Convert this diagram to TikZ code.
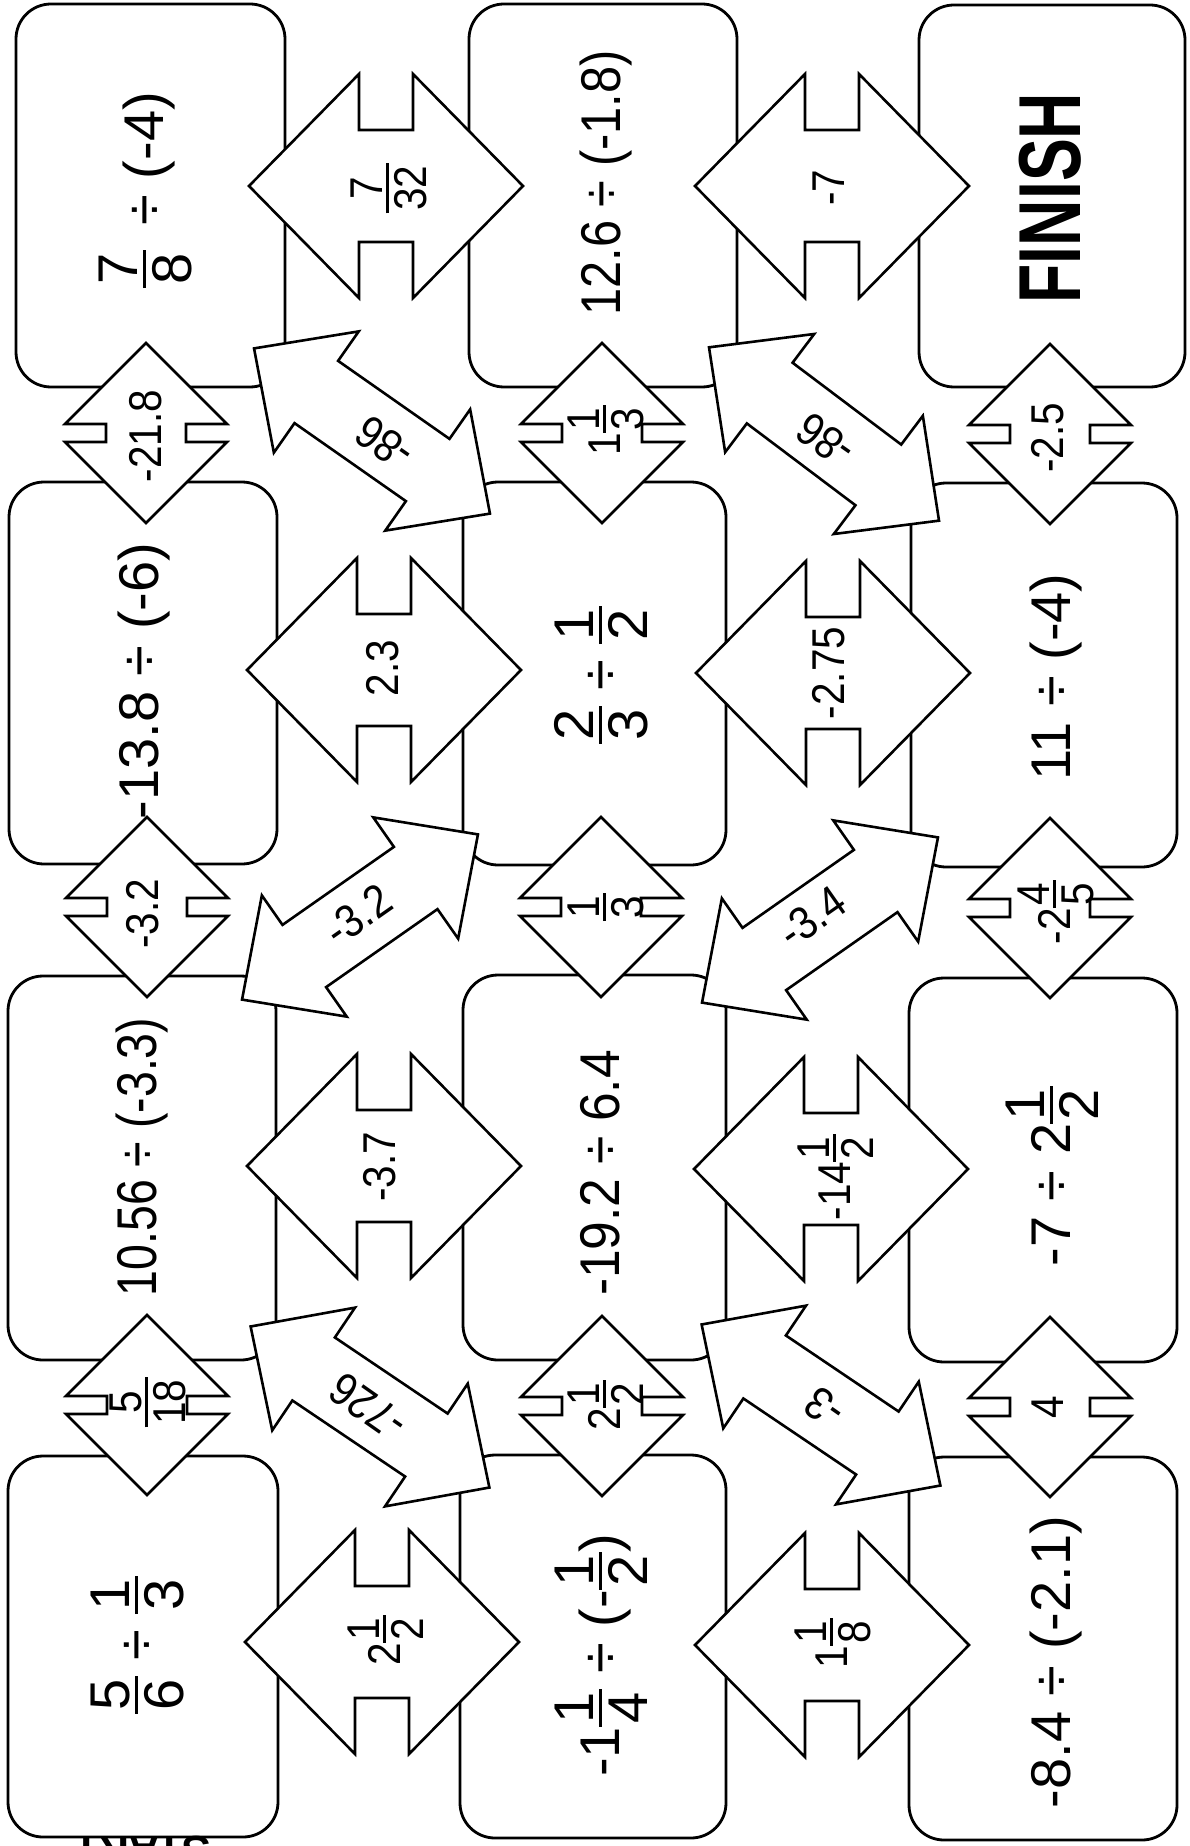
\documentclass[tikz,border=0pt]{standalone}
\usepackage{fontspec}
\usepackage{graphicx}
\setmainfont{Liberation Sans}
\newfontfamily\boxfont{Liberation Sans}
\newfontfamily\lblfont[FakeStretch=0.88]{Liberation Sans}
\newfontfamily\finfont[FakeStretch=0.73]{Liberation Sans}
\newsavebox\frnum \newsavebox\frden \newlength\frw
\newcommand{\fr}[2]{\mbox{%
  \sbox\frnum{#1}\sbox\frden{#2}%
  \setlength\frw{\wd\frnum}%
  \ifdim\wd\frden>\frw \setlength\frw{\wd\frden}\fi
  \addtolength\frw{0.12em}%
  \rlap{\raisebox{0.45em}{\makebox[\frw]{\usebox\frnum}}}%
  \rlap{\raisebox{-0.51em}{\makebox[\frw]{\usebox\frden}}}%
  \rlap{\rule[0.31em]{\frw}{0.05em}}%
  \hspace*{\frw}}}
\tikzset{
  boxnode/.style={draw, line width=1.4pt, rounded corners=17.5pt, fill=white, inner sep=0pt},
  boxtxt/.style={rotate=90, anchor=base, inner sep=0pt, font=\boxfont\fontsize{28}{32}\selectfont},
  lbl/.style={rotate=90, anchor=base, inner sep=0pt, font=\lblfont\fontsize{23}{27}\selectfont},
  dlbl/.style={anchor=base, inner sep=0pt, font=\lblfont\fontsize{23}{27}\selectfont},
  arrowline/.style={draw, line width=1.3pt, fill=white, line join=miter, miter limit=10},
  pics/harr/.style={code={\path[arrowline] (-137,0) -- (-27,-112) -- (-27,-56) -- (27,-56) -- (27,-112) -- (137,0) -- (27,112) -- (27,56) -- (-27,56) -- (-27,112) -- cycle;}},
  pics/varr/.style={code={\path[arrowline] (0,-90) -- (81,-9) -- (40,-9) -- (40,9) -- (81,9) -- (0,90) -- (-81,9) -- (-40,9) -- (-40,-9) -- (-81,-9) -- cycle;}},
  pics/darr/.style={code={\path[arrowline] (-144,0) -- (-68,-74) -- (-68,-38) -- (68,-38) -- (68,-74) -- (144,0) -- (68,74) -- (68,38) -- (-68,38) -- (-68,74) -- cycle;}},
}
\begin{document}
\begin{tikzpicture}[x=0.5pt,y=-0.5pt]
\useasboundingbox (0,0) rectangle (1189,1846);
\clip (0,0) rectangle (1189,1846);
\fill[white] (0,0) rectangle (1189,1846);

% boxes
\node[boxnode, minimum width=134.5pt, minimum height=191.5pt] (A4) at (150.5,195.5) {};
\node[boxnode, minimum width=134pt, minimum height=191pt] (A3) at (143,673) {};
\node[boxnode, minimum width=134pt, minimum height=192pt] (A2) at (142,1168) {};
\node[boxnode, minimum width=135pt, minimum height=190.5pt] (A1) at (143,1646.5) {};
\node[boxnode, minimum width=134pt, minimum height=191.5pt] (B4) at (603,195.5) {};
\node[boxnode, minimum width=131.5pt, minimum height=191.5pt] (B3) at (594.5,673.5) {};
\node[boxnode, minimum width=131.5pt, minimum height=192.5pt] (B2) at (594.5,1167.5) {};
\node[boxnode, minimum width=133pt, minimum height=191.5pt] (B1) at (593,1646.5) {};
\node[boxnode, minimum width=133pt, minimum height=191pt] (C4) at (1052,196) {};
\node[boxnode, minimum width=133pt, minimum height=192pt] (C3) at (1044,675) {};
\node[boxnode, minimum width=134pt, minimum height=192pt] (C2) at (1043,1170) {};
\node[boxnode, minimum width=134pt, minimum height=191.5pt] (C1) at (1043,1648.5) {};

% horizontal arrows
\pic at (386,186) {harr};
\pic at (832,186) {harr};
\pic at (384,670) {harr};
\pic at (833,673) {harr};
\pic at (384,1166) {harr};
\pic at (831,1169) {harr};
\pic at (382,1642) {harr};
\pic at (832,1645) {harr};

% vertical arrows
\pic at (146,433) {varr};
\pic at (602,433) {varr};
\pic at (1050,434) {varr};
\pic at (147,907) {varr};
\pic at (601,907) {varr};
\pic at (1050,908) {varr};
\pic at (147,1405) {varr};
\pic at (602,1406) {varr};
\pic at (1050,1407) {varr};

% diagonal arrows
\pic[rotate=-35] at (372,431) {darr};
\pic[rotate=-37] at (824,434) {darr};
\pic[rotate=35] at (360,917) {darr};
\pic[rotate=35] at (820,920) {darr};
\pic[rotate=-34] at (370,1407) {darr};
\pic[rotate=-34] at (821,1405) {darr};

% box texts
\node[boxtxt] (A4t) at (163,190) {\fr{7}{8} \,÷ (-4)};
\node[boxtxt] (A3t) at (158,681) {-13.8 ÷ (-6)};
\node[boxtxt, xscale=0.83] (A2t) at (156,1157) {10.56 ÷ (-3.3)};
\node[boxtxt] (A1t) at (155,1645) {\fr{5}{6} ÷ \fr{1}{3}};
\node[boxtxt, xscale=0.87] (B4t) at (620,183) {12.6 ÷ (-1.8)};
\node[boxtxt] (B3t) at (619,675) {\fr{2}{3} ÷ \fr{1}{2}};
\node[boxtxt, xscale=0.92] (B2t) at (619,1173) {-19.2 ÷ 6.4};
\node[boxtxt] (B1t) at (619,1655) {-1\fr{1}{4} ÷ (-\fr{1}{2})};
\node[rotate=90, anchor=base, inner sep=0pt, font=\finfont\bfseries\fontsize{44}{48}\selectfont] (C4t) at (1080,198) {FINISH};
\node[boxtxt] (C3t) at (1070,677) {11 ÷ (-4)};
\node[boxtxt] (C2t) at (1070,1176) {-7 ÷ 2\fr{1}{2}};
\node[boxtxt] (C1t) at (1070,1662) {-8.4 ÷ (-2.1)};
\node[rotate=180, anchor=base, inner sep=0pt, font=\bfseries\fontsize{21}{24}\selectfont] (start) at (142,1836) {START};

% horizontal arrow labels
\node[lbl] (h41) at (403,188) {\fr{7}{32}};
\node[lbl] (h42) at (844,188) {-7};
\node[lbl] (h31) at (398,668) {2.3};
\node[lbl] (h32) at (844,673) {-2.75};
\node[lbl] (h21) at (395,1167) {-3.7};
\node[lbl] (h22) at (850,1177) {-14\fr{1}{2}};
\node[lbl] (h11) at (400,1640) {2\fr{1}{2}};
\node[lbl] (h12) at (847,1643) {1\fr{1}{8}};

% vertical arrow labels
\node[lbl] (v1a) at (161,436) {-21.8};
\node[lbl] (v1b) at (620,430) {1\fr{1}{3}};
\node[lbl] (v1c) at (1063,438) {-2.5};
\node[lbl] (v2a) at (158,914) {-3.2};
\node[lbl] (v2b) at (620,907) {\fr{1}{3}};
\node[lbl] (v2c) at (1070,912) {-2\fr{4}{5}};
\node[lbl] (v3a) at (162,1402) {\fr{5}{18}};
\node[lbl] (v3b) at (620,1405) {2\fr{1}{2}};
\node[lbl] (v3c) at (1063,1407) {4};

% diagonal arrow labels
\node[dlbl, rotate=145] (d1a) at (394,430) {-86};
\node[dlbl, rotate=145] (d1b) at (835,427) {-86};
\node[dlbl, rotate=35] (d2a) at (367,928) {-3.2};
\node[dlbl, rotate=35] (d2b) at (821,930) {-3.4};
\node[dlbl, rotate=145] (d3a) at (377,1394) {-726};
\node[dlbl, rotate=145] (d3b) at (834,1395) {-3};
\end{tikzpicture}
\end{document}
